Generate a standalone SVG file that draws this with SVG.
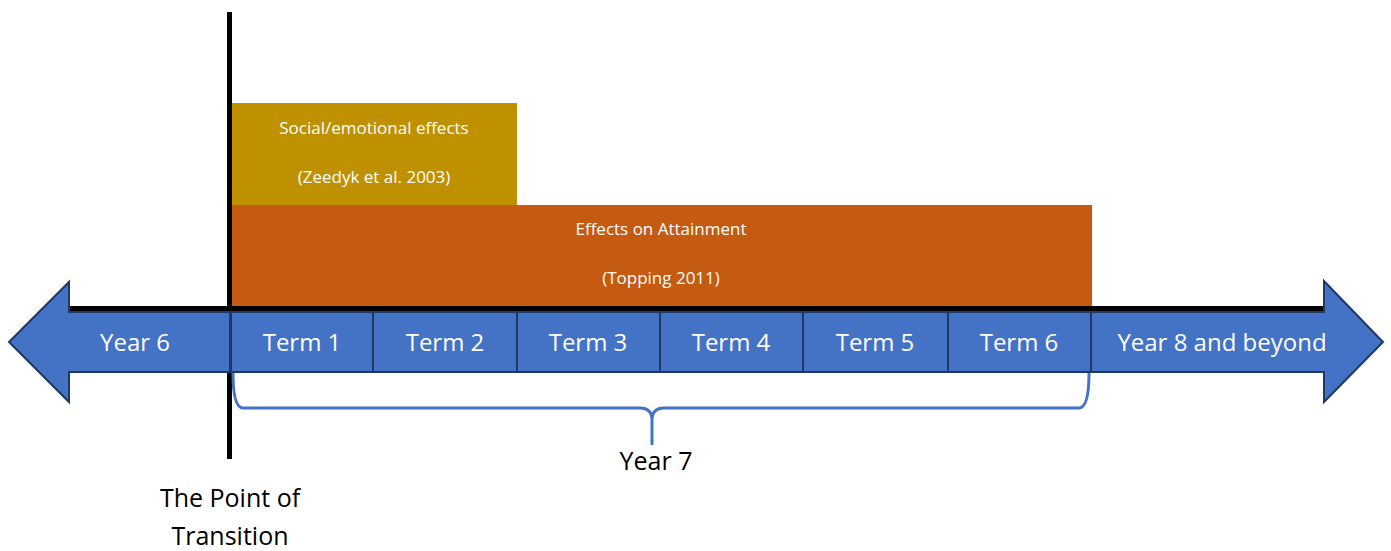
<svg xmlns="http://www.w3.org/2000/svg" width="1391" height="551" viewBox="0 0 1391 551">
  <style>
    .blk { fill: #4472C4; stroke: #1F3864; stroke-width: 2; stroke-linejoin: miter; }
    .lbl { font-family: "Open Sans", "Liberation Sans", sans-serif; fill: #FFFFFF; text-anchor: middle; }
    .big { font-size: 24px; }
    .small { font-size: 17px; }
    .dark { font-family: "Open Sans", "Liberation Sans", sans-serif; fill: #000000; text-anchor: middle; font-size: 25px; }
  </style>

  <!-- effect bands -->
  <g id="social">
    <rect x="231" y="103" width="286" height="102" fill="#BF9000"/>
    <text class="lbl small" x="374" y="134">Social/emotional effects</text>
    <text class="lbl small" x="374" y="183">(Zeedyk et al. 2003)</text>
  </g>
  <g id="attainment">
    <rect x="231" y="205" width="861" height="102" fill="#C55A11"/>
    <text class="lbl small" x="661" y="235">Effects on Attainment</text>
    <text class="lbl small" x="661" y="284">(Topping 2011)</text>
  </g>

  <!-- timeline baseline -->
  <g id="connectors">
    <rect x="68" y="306" width="1256" height="6" fill="#000000"/>
    <line x1="229.5" y1="12" x2="229.5" y2="459" stroke="#000000" stroke-width="5"/>
    <!-- Year 7 brace -->
    <path d="M233 373 Q233 408 243 408 L640 408 Q652 408 652 420 L652 445 M652 420 Q652 408 664 408 L1079 408 Q1089 408 1089 373" fill="none" stroke="#4472C4" stroke-width="3"/>
  </g>

  <g id="year6">
    <path class="blk" d="M230 312 L69 312 L69 282 L9 342 L69 402 L69 372 L230 372 Z"/>
    <text class="lbl big" x="135" y="351">Year 6</text>
  </g>
  <g id="term1"><rect class="blk" x="231" y="312" width="142" height="60"/><text class="lbl big" x="302" y="351">Term 1</text></g>
  <g id="term2"><rect class="blk" x="373" y="312" width="144" height="60"/><text class="lbl big" x="445" y="351">Term 2</text></g>
  <g id="term3"><rect class="blk" x="517" y="312" width="143" height="60"/><text class="lbl big" x="588" y="351">Term 3</text></g>
  <g id="term4"><rect class="blk" x="660" y="312" width="143" height="60"/><text class="lbl big" x="731" y="351">Term 4</text></g>
  <g id="term5"><rect class="blk" x="803" y="312" width="145" height="60"/><text class="lbl big" x="875" y="351">Term 5</text></g>
  <g id="term6"><rect class="blk" x="948" y="312" width="143" height="60"/><text class="lbl big" x="1019" y="351">Term 6</text></g>
  <g id="year8">
    <path class="blk" d="M1091 312 L1324 312 L1324 281 L1383 342 L1324 402 L1324 372 L1091 372 Z"/>
    <text class="lbl big" x="1222" y="351">Year 8 and beyond</text>
  </g>

  <g id="year7">
    <text class="dark" x="656" y="470">Year 7</text>
  </g>
  <g id="transition">
    <text class="dark" x="230" y="507">The Point of</text>
    <text class="dark" x="230" y="545">Transition</text>
  </g>
</svg>
